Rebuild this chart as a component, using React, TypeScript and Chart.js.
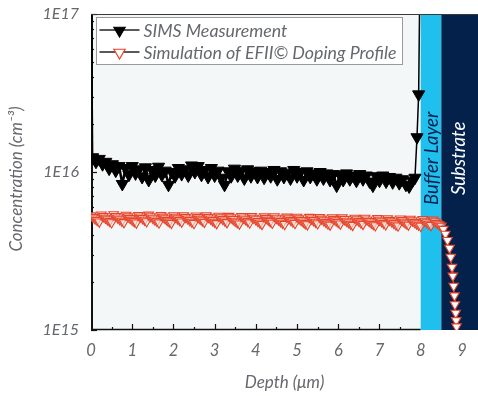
import { useEffect, useRef } from 'react';
import { Chart, registerables } from 'chart.js';

Chart.register(...registerables);

// ---------------- data ----------------
const simsLabel = 'SIMS Measurement';
const simLabel = 'Simulation of EFII\u00A9 Doping Profile';

const simsDepth = [
  0.0,
  0.04, 0.12, 0.20, 0.28, 0.36, 0.44, 0.52, 0.60, 0.68, 0.76,
  0.84, 0.92, 1.00, 1.08, 1.16, 1.24, 1.32, 1.40, 1.48, 1.56,
  1.64, 1.72, 1.80, 1.88, 1.96, 2.04, 2.12, 2.20, 2.28, 2.36,
  2.44, 2.52, 2.60, 2.68, 2.76, 2.84, 2.92, 3.00, 3.08, 3.16,
  3.24, 3.32, 3.40, 3.48, 3.56, 3.64, 3.72, 3.80, 3.88, 3.96,
  4.04, 4.12, 4.20, 4.28, 4.36, 4.44, 4.52, 4.60, 4.68, 4.76,
  4.84, 4.92, 5.00, 5.08, 5.16, 5.24, 5.32, 5.40, 5.48, 5.56,
  5.64, 5.72, 5.80, 5.88, 5.96, 6.04, 6.12, 6.20, 6.28, 6.36,
  6.44, 6.52, 6.60, 6.68, 6.76, 6.84, 6.92, 7.00, 7.08, 7.16,
  7.24, 7.32, 7.40, 7.48, 7.56, 7.64, 7.72, 7.80, 7.86,
  7.91, 7.95, 7.99,
];
const simsConc = [
  300e15,
  12.4e15, 11.6e15, 12.1e15, 11.2e15, 11.6e15, 10.5e15, 11.2e15, 10.2e15, 10.9e15, 8.4e15,
  10.6e15, 9.6e15, 10.9e15, 9.8e15, 10.4e15, 9.3e15, 10.7e15, 8.9e15, 10.3e15, 9.5e15,
  10.8e15, 9.6e15, 10.2e15, 8.3e15, 10.0e15, 9.4e15, 10.6e15, 9.7e15, 10.4e15, 9.5e15,
  11.0e15, 10.0e15, 10.9e15, 9.6e15, 10.3e15, 9.3e15, 10.6e15, 9.5e15, 10.2e15, 9.2e15,
  8.3e15, 10.1e15, 9.4e15, 10.5e15, 9.5e15, 10.2e15, 9.1e15, 10.4e15, 9.4e15, 10.1e15,
  9.3e15, 10.2e15, 9.2e15, 10.0e15, 9.4e15, 10.3e15, 9.0e15, 10.1e15, 9.3e15, 9.9e15,
  9.1e15, 10.3e15, 9.4e15, 10.0e15, 8.9e15, 10.1e15, 9.3e15, 9.8e15, 9.0e15, 10.0e15,
  9.1e15, 9.8e15, 8.9e15, 9.7e15, 8.2e15, 9.6e15, 8.9e15, 9.8e15, 9.0e15, 9.5e15,
  8.8e15, 9.7e15, 9.0e15, 9.5e15, 8.7e15, 8.2e15, 9.4e15, 8.8e15, 9.5e15, 8.7e15,
  9.3e15, 8.6e15, 9.2e15, 8.5e15, 9.0e15, 8.3e15, 8.1e15, 8.8e15, 9.2e15,
  16.6e15, 31e15, 300e15,
];

const simDepth = [
  0.00, 0.05, 0.10, 0.15, 0.20, 0.25, 0.30, 0.35, 0.40, 0.45,
  0.50, 0.55, 0.60, 0.65, 0.70, 0.75, 0.80, 0.85, 0.90, 0.95,
  1.00, 1.05, 1.10, 1.15, 1.20, 1.25, 1.30, 1.35, 1.40, 1.45,
  1.50, 1.55, 1.60, 1.65, 1.70, 1.75, 1.80, 1.85, 1.90, 1.95,
  2.00, 2.05, 2.10, 2.15, 2.20, 2.25, 2.30, 2.35, 2.40, 2.45,
  2.50, 2.55, 2.60, 2.65, 2.70, 2.75, 2.80, 2.85, 2.90, 2.95,
  3.00, 3.05, 3.10, 3.15, 3.20, 3.25, 3.30, 3.35, 3.40, 3.45,
  3.50, 3.55, 3.60, 3.65, 3.70, 3.75, 3.80, 3.85, 3.90, 3.95,
  4.00, 4.05, 4.10, 4.15, 4.20, 4.25, 4.30, 4.35, 4.40, 4.45,
  4.50, 4.55, 4.60, 4.65, 4.70, 4.75, 4.80, 4.85, 4.90, 4.95,
  5.00, 5.05, 5.10, 5.15, 5.20, 5.25, 5.30, 5.35, 5.40, 5.45,
  5.50, 5.55, 5.60, 5.65, 5.70, 5.75, 5.80, 5.85, 5.90, 5.95,
  6.00, 6.05, 6.10, 6.15, 6.20, 6.25, 6.30, 6.35, 6.40, 6.45,
  6.50, 6.55, 6.60, 6.65, 6.70, 6.75, 6.80, 6.85, 6.90, 6.95,
  7.00, 7.05, 7.10, 7.15, 7.20, 7.25, 7.30, 7.35, 7.40, 7.45,
  7.50, 7.55, 7.60, 7.65, 7.70, 7.75, 7.80, 7.85, 7.90, 7.95,
  8.00, 8.05, 8.10, 8.15, 8.20, 8.25, 8.30, 8.35, 8.40, 8.45,
  8.50,
  8.55, 8.60, 8.65, 8.70, 8.73, 8.76, 8.78, 8.80, 8.82, 8.83, 8.85, 8.86, 8.87,
];
const simConc = [
  5.30e15, 5.18e15, 5.06e15, 4.95e15, 4.84e15, 5.36e15, 5.24e15, 5.12e15, 5.00e15, 4.89e15,
  4.79e15, 5.38e15, 5.25e15, 5.13e15, 5.01e15, 4.90e15, 4.80e15, 5.34e15, 5.22e15, 5.10e15,
  4.98e15, 4.87e15, 4.77e15, 5.33e15, 5.21e15, 5.09e15, 4.97e15, 4.86e15, 5.35e15, 5.23e15,
  5.11e15, 4.99e15, 4.88e15, 4.78e15, 5.32e15, 5.20e15, 5.08e15, 4.96e15, 4.85e15, 4.75e15,
  5.31e15, 5.19e15, 5.07e15, 4.95e15, 4.84e15, 5.30e15, 5.18e15, 5.06e15, 4.94e15, 4.83e15,
  4.74e15, 5.29e15, 5.17e15, 5.05e15, 4.93e15, 4.82e15, 5.30e15, 5.18e15, 5.06e15, 4.94e15,
  4.83e15, 4.73e15, 5.27e15, 5.15e15, 5.03e15, 4.91e15, 4.80e15, 5.26e15, 5.14e15, 5.02e15,
  4.90e15, 4.79e15, 4.70e15, 5.25e15, 5.13e15, 5.01e15, 4.89e15, 4.78e15, 5.24e15, 5.12e15,
  5.00e15, 4.88e15, 4.77e15, 4.68e15, 5.22e15, 5.10e15, 4.98e15, 4.87e15, 4.76e15, 5.23e15,
  5.11e15, 4.99e15, 4.87e15, 4.76e15, 4.67e15, 5.20e15, 5.08e15, 4.96e15, 4.85e15, 4.74e15,
  5.19e15, 5.07e15, 4.95e15, 4.84e15, 4.73e15, 4.65e15, 5.18e15, 5.06e15, 4.94e15, 4.83e15,
  4.72e15, 5.17e15, 5.05e15, 4.93e15, 4.82e15, 4.71e15, 4.63e15, 5.15e15, 5.03e15, 4.92e15,
  4.81e15, 4.70e15, 5.14e15, 5.02e15, 4.90e15, 4.79e15, 4.69e15, 4.61e15, 5.12e15, 5.00e15,
  4.89e15, 4.78e15, 4.68e15, 5.11e15, 4.99e15, 4.88e15, 4.77e15, 4.67e15, 4.59e15, 5.09e15,
  4.97e15, 4.86e15, 4.75e15, 4.65e15, 5.08e15, 4.96e15, 4.85e15, 4.74e15, 4.64e15, 4.57e15,
  5.06e15, 4.94e15, 4.83e15, 4.72e15, 4.63e15, 5.04e15, 4.92e15, 4.81e15, 4.71e15, 4.62e15,
  4.55e15, 5.02e15, 4.90e15, 4.79e15, 4.69e15, 4.60e15, 4.98e15, 4.86e15, 4.75e15, 4.65e15,
  4.56e15,
  4.35e15, 4.05e15, 3.7e15, 3.3e15, 2.9e15, 2.5e15, 2.2e15, 1.9e15, 1.65e15, 1.45e15, 1.28e15, 1.15e15, 1.05e15,
];

const xTickValues = [0, 1, 2, 3, 4, 5, 6, 7, 8, 9];
const xMinorValues = [0.5, 1.5, 2.5, 3.5, 4.5, 5.5, 6.5, 7.5];
const yTickValues = [1e15, 1e16, 1e17];
const yTickLabels = ['1E15', '1E16', '1E17'];
const yMinorMultipliers = [2, 3, 4, 5, 6, 7, 8, 9];

const layerNames = ['Buffer Layer', 'Substrate'];
const layerStart = [8.0, 8.5];
const layerEnd = [8.5, 9.39];

const xTitle = 'Depth (\u03BCm)';
const yTitle = 'Concentration (cm\u207B\u00B3)';

// ---------------- styles ----------------
const TEXT = '#65686d';
const FONT = 'Lato';
const CYAN = '#20c0ee';
const NAVY = '#04214c';
const SIM_RED = '#e5442a';

function triangleDown(ctx: CanvasRenderingContext2D, x: number, y: number, r: number) {
  const s = Math.sin(Math.PI / 3) * r;
  ctx.beginPath();
  ctx.moveTo(x, y + r);
  ctx.lineTo(x - s, y - r / 2);
  ctx.lineTo(x + s, y - r / 2);
  ctx.closePath();
}

const decor = {
  id: 'decor',
  beforeDraw(chart: any) {
    const { ctx, chartArea: a } = chart;
    ctx.save();
    ctx.fillStyle = '#ffffff';
    ctx.fillRect(0, 0, chart.width, chart.height);
    ctx.fillStyle = '#f3f7f7';
    ctx.fillRect(a.left, a.top, a.right - a.left, a.bottom - a.top);
    ctx.restore();
  },
  beforeDatasetsDraw(chart: any) {
    const { ctx, chartArea: a, scales } = chart;
    const xs = scales.x;
    const ys = scales.y;
    ctx.save();
    // bottom axis line up to the layers
    ctx.strokeStyle = '#111';
    ctx.lineWidth = 1.5;
    ctx.beginPath();
    ctx.moveTo(a.left, a.bottom - 0.5);
    ctx.lineTo(xs.getPixelForValue(layerStart[0]), a.bottom - 0.5);
    ctx.stroke();
    // x ticks (inward)
    ctx.lineWidth = 1.2;
    xTickValues.forEach((v) => {
      if (v <= 0 || v >= layerStart[0]) return;
      const px = Math.round(xs.getPixelForValue(v)) + 0.5;
      ctx.beginPath();
      ctx.moveTo(px, a.bottom);
      ctx.lineTo(px, a.bottom - 6);
      ctx.stroke();
    });
    xMinorValues.forEach((v) => {
      if (v >= layerStart[0]) return;
      const px = Math.round(xs.getPixelForValue(v)) + 0.5;
      ctx.beginPath();
      ctx.moveTo(px, a.bottom);
      ctx.lineTo(px, a.bottom - 3);
      ctx.stroke();
    });
    // y ticks (inward)
    yTickValues.forEach((v, i) => {
      const py = Math.round(ys.getPixelForValue(v)) + 0.5;
      ctx.beginPath();
      ctx.moveTo(a.left, py);
      ctx.lineTo(a.left + 6, py);
      ctx.stroke();
      if (i < yTickValues.length - 1) {
        yMinorMultipliers.forEach((m) => {
          const pm = Math.round(ys.getPixelForValue(v * m)) + 0.5;
          ctx.beginPath();
          ctx.moveTo(a.left, pm);
          ctx.lineTo(a.left + 3, pm);
          ctx.stroke();
        });
      }
    });
    // layers
    const colors = [CYAN, NAVY];
    const textColors = [NAVY, '#ffffff'];
    const textY = ys.getPixelForValue(1.22e16);
    layerNames.forEach((name, i) => {
      const x0 = xs.getPixelForValue(layerStart[i]);
      const x1 = Math.min(xs.getPixelForValue(layerEnd[i]), chart.width);
      ctx.fillStyle = colors[i];
      ctx.fillRect(x0, a.top, x1 - x0, a.bottom - a.top);
      ctx.save();
      ctx.translate((x0 + x1) / 2 + (i === 0 ? 0 : -1.5), textY);
      ctx.rotate(-Math.PI / 2);
      ctx.fillStyle = textColors[i];
      ctx.font = `italic 18.5px ${FONT}`;
      ctx.textAlign = 'center';
      ctx.textBaseline = 'middle';
      ctx.fillText(name, 0, 1);
      ctx.restore();
    });
    // left axis line
    ctx.strokeStyle = '#111';
    ctx.lineWidth = 2;
    ctx.beginPath();
    ctx.moveTo(a.left + 1, a.top);
    ctx.lineTo(a.left + 1, a.bottom);
    ctx.stroke();
    ctx.restore();
  },
  afterDatasetsDraw(chart: any) {
    const { ctx, chartArea: a } = chart;
    ctx.save();
    // top border
    ctx.strokeStyle = '#3a3a3a';
    ctx.lineWidth = 1;
    ctx.beginPath();
    ctx.moveTo(a.left, a.top + 0.5);
    ctx.lineTo(a.right, a.top + 0.5);
    ctx.stroke();
    // legend
    const bx = a.left + 5.5, by = a.top + 3.5, bw = 306, bh = 47;
    ctx.fillStyle = '#ffffff';
    ctx.fillRect(bx, by, bw, bh);
    ctx.strokeStyle = '#9a9a9a';
    ctx.lineWidth = 1;
    ctx.strokeRect(bx, by, bw, bh);
    const items = [
      { label: simsLabel, fill: '#000000', stroke: '#000000', y: by + 12.5 },
      { label: simLabel, fill: '#ffffff', stroke: SIM_RED, y: by + 34.5 },
    ];
    items.forEach((it) => {
      ctx.strokeStyle = '#222';
      ctx.lineWidth = 1.6;
      ctx.beginPath();
      ctx.moveTo(bx + 3, it.y);
      ctx.lineTo(bx + 43, it.y);
      ctx.stroke();
      triangleDown(ctx, bx + 23, it.y + 0.5, 6.5);
      ctx.fillStyle = it.fill;
      ctx.fill();
      ctx.strokeStyle = it.stroke;
      ctx.lineWidth = 1.2;
      ctx.stroke();
      ctx.fillStyle = TEXT;
      ctx.font = `italic 17.8px ${FONT}`;
      ctx.textAlign = 'left';
      ctx.textBaseline = 'middle';
      ctx.fillText(it.label, bx + 47, it.y + 1);
    });
    ctx.restore();
  },
  afterDraw(chart: any) {
    const { ctx } = chart;
    ctx.save();
    ctx.translate(17, 179);
    ctx.rotate(-Math.PI / 2);
    ctx.fillStyle = TEXT;
    ctx.font = `italic 17px ${FONT}`;
    ctx.textAlign = 'center';
    ctx.textBaseline = 'middle';
    ctx.fillText(yTitle, 0, 0);
    ctx.restore();
  },
};

export default function App() {
  const ref = useRef<HTMLCanvasElement | null>(null);
  useEffect(() => {
    if (!ref.current) return;
    const lastSims = simsDepth.length - 1;
    const chart = new Chart(ref.current, {
      type: 'scatter',
      data: {
        datasets: [
          {
            label: simLabel,
            data: simDepth.map((x, i) => ({ x, y: simConc[i] })),
            showLine: true,
            borderColor: SIM_RED,
            borderWidth: 1,
            pointStyle: 'triangle',
            pointRotation: 180,
            pointRadius: 5.5,
            pointBackgroundColor: (c: any) =>
              c.raw && c.raw.x > layerStart[1] ? '#ffffff' : 'rgba(255,246,242,0.55)',
            pointBorderColor: SIM_RED,
            pointBorderWidth: 1.1,
          },
          {
            label: simsLabel,
            data: simsDepth.map((x, i) => ({ x, y: simsConc[i] })),
            showLine: true,
            borderColor: '#000000',
            borderWidth: 2.5,
            segment: {
              borderWidth: (c: any) =>
                c.p0DataIndex === 0 || c.p1DataIndex >= lastSims - 2 ? 1.5 : 2.5,
            },
            pointStyle: 'triangle',
            pointRotation: 180,
            pointRadius: 7,
            pointBackgroundColor: '#000000',
            pointBorderColor: '#000000',
            pointBorderWidth: 1,
          },
        ],
      } as any,
      options: {
        animation: false,
        responsive: false,
        maintainAspectRatio: false,
        layout: { autoPadding: false, padding: { top: 14, right: 0, bottom: 0, left: 0 } },
        plugins: { legend: { display: false }, tooltip: { enabled: false } },
        scales: {
          x: {
            type: 'linear',
            min: 0,
            max: layerEnd[1],
            grid: { display: false, drawTicks: false },
            border: { display: false },
            afterBuildTicks: (s: any) => {
              s.ticks = xTickValues.map((value) => ({ value }));
            },
            afterFit: (s: any) => {
              s.height = 66;
              s.paddingLeft = 0;
              s.paddingRight = 0;
            },
            ticks: {
              padding: 11,
              color: TEXT,
              font: { family: FONT, size: 16.5, style: 'italic' },
              maxRotation: 0,
              callback: (v: any) => String(v),
            },
            title: {
              display: true,
              text: xTitle,
              color: TEXT,
              font: { family: FONT, size: 17, style: 'italic' },
              padding: { top: 0, bottom: 3 },
            },
          },
          y: {
            type: 'logarithmic',
            min: 1e15,
            max: 1e17,
            grid: { display: false, drawTicks: false },
            border: { display: false },
            afterBuildTicks: (s: any) => {
              s.ticks = yTickValues.map((value) => ({ value }));
            },
            afterFit: (s: any) => {
              s.width = 91;
              s.paddingTop = 0;
              s.paddingBottom = 0;
            },
            ticks: {
              padding: 12,
              color: TEXT,
              font: { family: FONT, size: 16, style: 'italic' },
              callback: (_v: any, i: number) => yTickLabels[i],
            },
          },
        },
      } as any,
      plugins: [decor],
    });
    return () => chart.destroy();
  }, []);
  return (
    <div style={{ position: 'absolute', left: 0, top: 0, width: 478, height: 396 }}>
      <canvas ref={ref} width={478} height={396} />
    </div>
  );
}
